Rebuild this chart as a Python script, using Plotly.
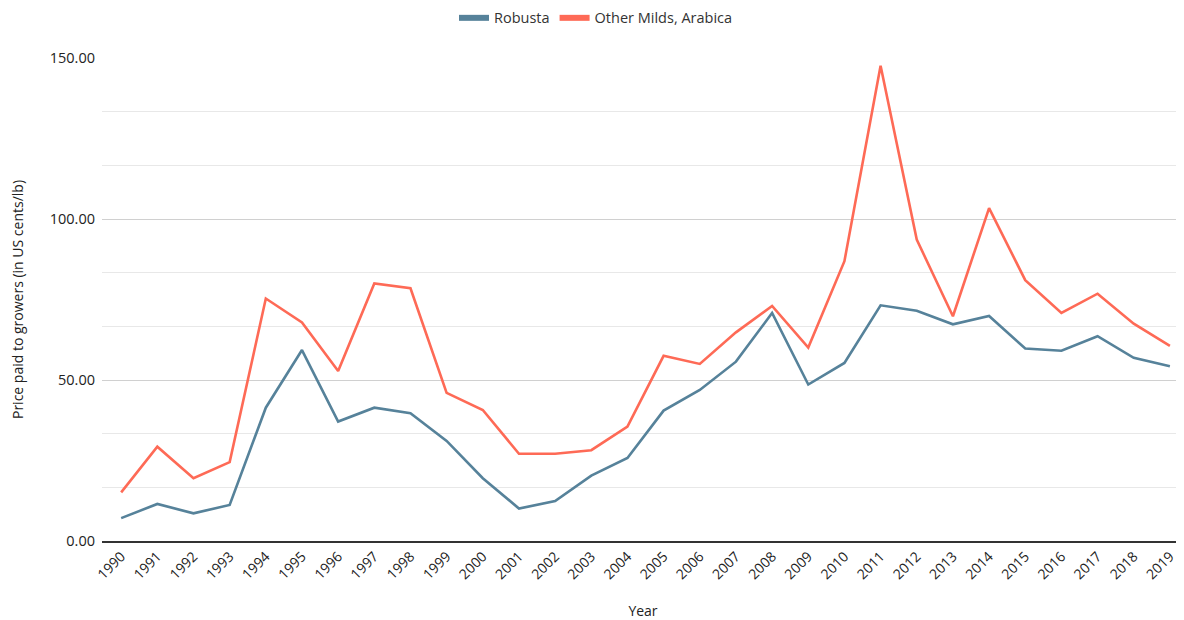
import plotly.graph_objects as go

years = list(range(1990, 2020))
robusta = [7.1, 11.5, 8.6, 11.2, 41.4, 59.3, 37.1, 41.4, 39.7, 31.1,
           19.5, 10.1, 12.4, 20.3, 25.8, 40.5, 46.9, 55.7, 70.8, 48.6,
           55.3, 73.2, 71.5, 67.3, 69.9, 59.8, 59.1, 63.6, 56.9, 54.3]
arabica = [15.1, 29.3, 19.5, 24.5, 75.3, 67.9, 52.8, 80.0, 78.5, 46.0,
           40.7, 27.1, 27.1, 28.2, 35.5, 57.5, 55.0, 64.8, 73.0, 60.1,
           86.9, 147.6, 93.6, 69.8, 103.4, 81.0, 70.8, 76.8, 67.5, 60.6]
series_names = ["Robusta", "Other Milds, Arabica"]
colors = ["#56829a", "#fe6a56"]

fig = go.Figure()
for name, vals, col in zip(series_names, [robusta, arabica], colors):
    fig.add_trace(go.Scatter(x=years, y=vals, mode="lines", name=name,
                             line=dict(color=col, width=2.6), showlegend=False))
# legend entries with thick swatches
for name, col in zip(series_names, colors):
    fig.add_trace(go.Scatter(x=[None], y=[None], mode="lines", name=name,
                             line=dict(color=col, width=6)))

font_family = "Open Sans, Noto Sans, sans-serif"
fig.update_layout(
    width=1176, height=612,
    margin=dict(l=94, r=0, t=50, b=79, autoexpand=False),
    plot_bgcolor="white", paper_bgcolor="white",
    font=dict(family=font_family, size=14, color="#222"),
    legend=dict(orientation="h", xref="container", x=0.5, xanchor="center",
                yref="paper", y=1.083, yanchor="middle",
                font=dict(size=14.5, color="#333"), itemwidth=30, tracegroupgap=0),
    xaxis=dict(
        range=[1989.47, 2019.39], tickvals=years, ticktext=[str(y) for y in years],
        tickangle=-45, showgrid=False, showline=True, linecolor="#333", linewidth=1.5,
        ticks="", tickfont=dict(size=14, color="#222"), automargin=False,
        title=dict(text="Year", font=dict(size=14, color="#222"), standoff=32),
        zeroline=False,
    ),
    yaxis=dict(
        range=[0, 150], tickvals=[0, 50, 100, 150], tickformat=".2f",
        showgrid=True, gridcolor="#d0d0d0", gridwidth=1.2,
        minor=dict(dtick=50/3, tick0=0, showgrid=True, gridcolor="#e8e8e8", gridwidth=1),
        zeroline=False, showline=False, ticks="", automargin=False,
        tickfont=dict(size=14.5, color="#222"), ticklabelstandoff=6,
        title=dict(text="Price paid to growers (in US cents/lb)",
                   font=dict(size=14, color="#222"), standoff=22),
    ),
)
fig.write_html("out.html")
